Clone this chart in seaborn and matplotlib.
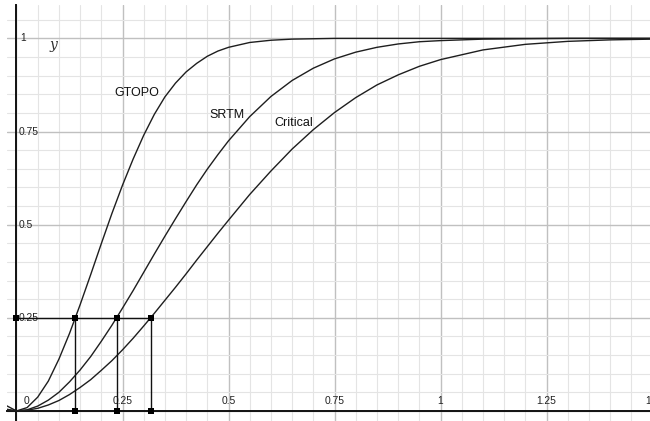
import numpy as np
import pandas as pd
import matplotlib
matplotlib.use("Agg")
import matplotlib.pyplot as plt
import seaborn as sns
from matplotlib.ticker import MultipleLocator

# ---- data ----
x_vals = [-0.04, 0, 0.025, 0.05, 0.075, 0.1, 0.125, 0.15, 0.175, 0.2, 0.225, 0.25,
          0.275, 0.3, 0.325, 0.35, 0.375, 0.4, 0.425, 0.45, 0.475, 0.5, 0.55, 0.6,
          0.65, 0.7, 0.75, 0.8, 0.85, 0.9, 0.95, 1.0, 1.1, 1.2, 1.3, 1.4, 1.5]
gtopo = [0.024, 0, 0.009, 0.037, 0.080, 0.139, 0.208, 0.285, 0.366, 0.449, 0.530, 0.606,
         0.676, 0.740, 0.796, 0.843, 0.880, 0.910, 0.933, 0.952, 0.966, 0.976, 0.989, 0.995,
         0.998, 0.999, 1.0, 1.0, 1.0, 1.0, 1.0, 1.0, 1.0, 1.0, 1.0, 1.0, 1.0]
srtm = [0.008, 0, 0.003, 0.013, 0.029, 0.050, 0.078, 0.110, 0.146, 0.187, 0.230, 0.276,
        0.323, 0.372, 0.421, 0.469, 0.516, 0.562, 0.607, 0.649, 0.688, 0.725, 0.790, 0.844,
        0.887, 0.920, 0.945, 0.963, 0.976, 0.985, 0.991, 0.994, 0.998, 0.999, 1.0, 1.0, 1.0]
critical = [0.005, 0, 0.002, 0.007, 0.016, 0.028, 0.044, 0.063, 0.084, 0.109, 0.135, 0.164,
            0.195, 0.228, 0.262, 0.297, 0.332, 0.368, 0.405, 0.441, 0.477, 0.512, 0.581, 0.644,
            0.703, 0.755, 0.801, 0.841, 0.875, 0.902, 0.925, 0.943, 0.969, 0.984, 0.992, 0.996, 0.998]
series_names = ["GTOPO", "SRTM", "Critical"]
label_pos_x = [0.232, 0.456, 0.607]
label_pos_y = [0.854, 0.794, 0.774]

level = 0.25
cross_x = [0.137, 0.236, 0.317]

xtick_vals = [0, 0.25, 0.5, 0.75, 1, 1.25, 1.5]
xtick_labels = ["0", "0.25", "0.5", "0.75", "1", "1.25", "1.5"]
ytick_vals = [0.25, 0.5, 0.75, 1]
ytick_labels = ["0.25", "0.5", "0.75", "1"]

df = pd.DataFrame({
    "x": x_vals * 3,
    "y": gtopo + srtm + critical,
    "series": sum([[n] * len(x_vals) for n in series_names], []),
})

sns.set_style("white")
plt.rcParams["font.family"] = ["Liberation Sans", "DejaVu Sans"]

W, H = 650, 421
fig = plt.figure(figsize=(W / 100, H / 100), dpi=100)
ax = fig.add_axes([7 / W, 0, (W - 7) / W, (H - 5) / H])

ax.set_xlim(-0.0224, 1.494)
ax.set_ylim(-0.027, 1.0896)

# grid
ax.xaxis.set_major_locator(MultipleLocator(0.25))
ax.xaxis.set_minor_locator(MultipleLocator(0.05))
ax.yaxis.set_major_locator(MultipleLocator(0.25))
ax.yaxis.set_minor_locator(MultipleLocator(0.05))
ax.grid(which="major", color="#c0c0c0", lw=1.0, zorder=0)
ax.grid(which="minor", color="#e4e4e4", lw=0.8, zorder=0)
ax.set_axisbelow(True)

# spines through origin
for s in ["top", "right"]:
    ax.spines[s].set_visible(False)
ax.spines["left"].set_position(("data", 0))
ax.spines["bottom"].set_position(("data", 0))
for s in ["left", "bottom"]:
    ax.spines[s].set_color("#111111")
    ax.spines[s].set_linewidth(1.4)
ax.tick_params(which="major", direction="inout", length=7, width=1.1, color="#111111",
               labelleft=False, labelbottom=False)
ax.tick_params(which="minor", direction="inout", length=4, width=0.9, color="#111111")
ax.set_xlabel("")
ax.set_ylabel("")

# curves
sns.lineplot(data=df, x="x", y="y", hue="series", palette=["#1e1e1e"] * 3,
             legend=False, ax=ax, lw=1.0, sort=True, estimator=None, zorder=3)

# construction lines at y = level
ax.plot([0, max(cross_x)], [level, level], color="#111111", lw=1.0, zorder=4)
for cx in cross_x:
    ax.plot([cx, cx], [0, level], color="#111111", lw=1.0, zorder=4)
mx = [0] + cross_x + cross_x
my = [level] + [level] * 3 + [0] * 3
ax.scatter(mx, my, marker="s", s=22, color="#000000", zorder=5, linewidths=0)

# curve labels
for n, lx, ly in zip(series_names, label_pos_x, label_pos_y):
    ax.text(lx, ly, n, fontsize=9, ha="left", va="center", color="#111111", zorder=6)

# tick labels
for v, t in zip(xtick_vals, xtick_labels):
    if v == 0:
        ax.text(0.024, 0.026, t, fontsize=7.4, ha="center", va="center", color="#222222")
    else:
        ax.text(v, 0.026, t, fontsize=7.4, ha="center", va="center", color="#222222")
for v, t in zip(ytick_vals, ytick_labels):
    ax.text(0.009 if t == "1" else 0.004, v, t, fontsize=7.4, ha="left", va="center",
            color="#222222")

ax.text(0.088, 0.982, "y", fontsize=10, style="italic", family="DejaVu Serif",
        ha="center", va="center", color="#333333")

fig.savefig("out.png", dpi=100)
